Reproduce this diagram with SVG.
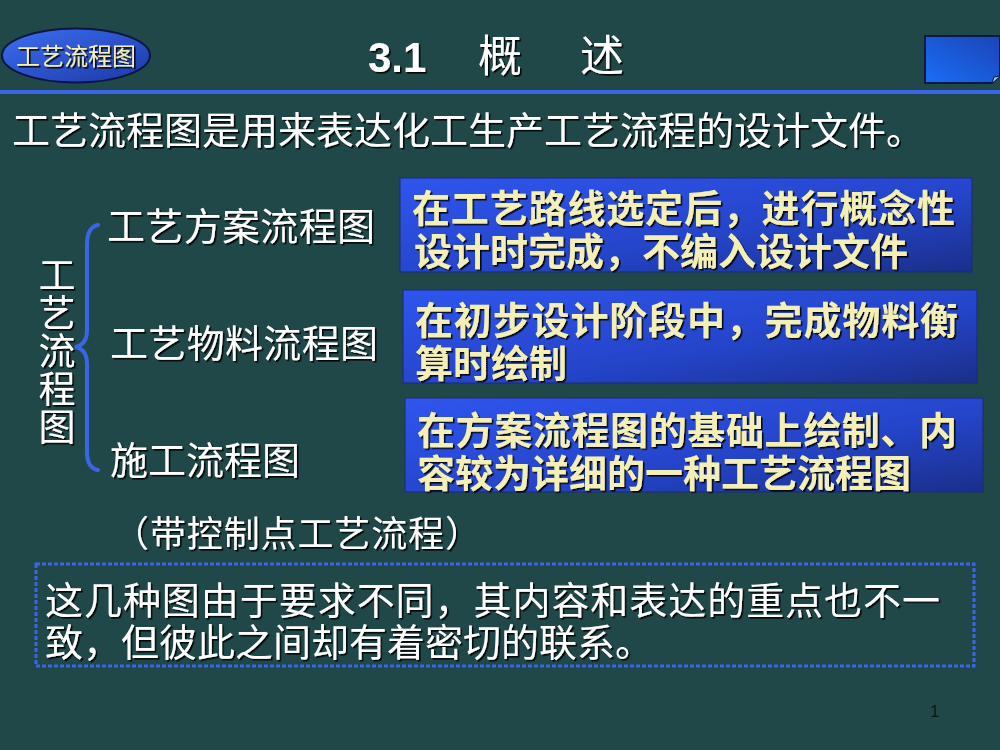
<svg xmlns="http://www.w3.org/2000/svg" width="1000" height="750" viewBox="0 0 1000 750">
  <defs>
    <linearGradient id="gBox" x1="0" y1="0" x2="1" y2="1">
      <stop offset="0" stop-color="#2f55ee"/>
      <stop offset="0.6" stop-color="#2444c8"/>
      <stop offset="1" stop-color="#1a2f8a"/>
    </linearGradient>
    <linearGradient id="gEll" x1="0" y1="0" x2="1" y2="1">
      <stop offset="0" stop-color="#3c6ef0"/>
      <stop offset="1" stop-color="#1c38a8"/>
    </linearGradient>
    <linearGradient id="gRect" x1="0" y1="1" x2="1" y2="0">
      <stop offset="0" stop-color="#1a6ef5"/>
      <stop offset="1" stop-color="#1a44b8"/>
    </linearGradient>
    <filter id="sh" x="-5%" y="-20%" width="110%" height="140%">
      <feDropShadow dx="1.6" dy="1.6" stdDeviation="0.4" flood-color="#000" flood-opacity="0.9"/>
    </filter>
    <style>
      .cjk { font-family: "Noto Sans CJK SC", "Noto Sans", sans-serif; }
      .w { fill: #ffffff; filter: url(#sh); }
      .y { fill: #f4efb4; filter: url(#sh); }
      .b { font-weight: bold; }
      .box { fill: url(#gBox); stroke: #1a2a70; stroke-width: 1; }
    </style>
  </defs>

  <rect x="0" y="0" width="1000" height="750" fill="#214849"/>

  <g id="badge">
    <ellipse cx="76" cy="55.5" rx="74" ry="27" fill="url(#gEll)" stroke="#0c1640" stroke-width="2"/>
    <text x="76" y="65" class="cjk y" font-size="24" text-anchor="middle">工艺流程图</text>
  </g>

  <g id="title">
    <text x="368" y="72" font-family="Liberation Sans, Arial, sans-serif" font-weight="bold" font-size="42" class="w">3.1</text>
    <text x="478" y="72" class="cjk w" font-size="44">概</text>
    <text x="580" y="72" class="cjk w" font-size="44">述</text>
  </g>

  <g id="corner-button">
    <path d="M925,36 H1000 V76 L992,83 H925 Z" fill="url(#gRect)" stroke="#0c1a44" stroke-width="2"/>
    <path d="M992,83 L994,77 L1000,76" fill="#a0b8e8" stroke="#0c1a44" stroke-width="1"/>
  </g>

  <line x1="0" y1="92" x2="1000" y2="92" stroke="#3a66e6" stroke-width="4"/>

  <g id="intro">
    <text x="12" y="144" class="cjk w" font-size="38" textLength="912" lengthAdjust="spacing">工艺流程图是用来表达化工生产工艺流程的设计文件。</text>
  </g>

  <g id="root">
    <text x="57" y="256" class="cjk w" font-size="37" writing-mode="vertical-rl" letter-spacing="1">工艺流程图</text>
  </g>

  <g id="connectors">
    <path d="M98,225 Q87,227 87,245 V330 Q87,345 75,347 Q87,349 87,364 V452 Q87,468 98,470" fill="none" stroke="#3a66e6" stroke-width="4" stroke-linecap="round"/>
  </g>

  <g id="label-scheme">
    <text x="107" y="240" class="cjk w" font-size="38" textLength="268" lengthAdjust="spacing">工艺方案流程图</text>
  </g>
  <g id="label-material">
    <text x="110" y="357" class="cjk w" font-size="38" textLength="268" lengthAdjust="spacing">工艺物料流程图</text>
  </g>
  <g id="label-construction">
    <text x="110" y="474" class="cjk w" font-size="38" textLength="190" lengthAdjust="spacing">施工流程图</text>
  </g>

  <g id="box-scheme">
    <rect x="400" y="178" width="572" height="94" class="box"/>
    <text class="cjk y b" font-size="38">
      <tspan x="412" y="222" textLength="543" lengthAdjust="spacing">在工艺路线选定后，进行概念性</tspan>
      <tspan x="414" y="265">设计时完成，不编入设计文件</tspan>
    </text>
  </g>
  <g id="box-material">
    <rect x="403" y="290" width="574" height="93" class="box"/>
    <text class="cjk y b" font-size="38">
      <tspan x="415" y="334" textLength="543" lengthAdjust="spacing">在初步设计阶段中，完成物料衡</tspan>
      <tspan x="415" y="377">算时绘制</tspan>
    </text>
  </g>
  <g id="box-construction">
    <rect x="405" y="398" width="578" height="94" class="box"/>
    <text class="cjk y b" font-size="38">
      <tspan x="417" y="444" textLength="540" lengthAdjust="spacing">在方案流程图的基础上绘制、内</tspan>
      <tspan x="417" y="487">容较为详细的一种工艺流程图</tspan>
    </text>
  </g>

  <g id="note-paren">
    <text x="113" y="547" class="cjk w" font-size="36" textLength="368" lengthAdjust="spacing">（带控制点工艺流程）</text>
  </g>

  <g id="summary">
    <rect x="36" y="564" width="938" height="102" fill="none" stroke="#3a66e6" stroke-width="3" stroke-dasharray="4,2"/>
    <text class="cjk w" font-size="38">
      <tspan x="45" y="614" textLength="895" lengthAdjust="spacing">这几种图由于要求不同，其内容和表达的重点也不一</tspan>
      <tspan x="45" y="656">致，但彼此之间却有着密切的联系。</tspan>
    </text>
  </g>

  <text x="930" y="717" font-family="Liberation Sans, Arial, sans-serif" font-size="17" fill="#0a1818">1</text>
</svg>
